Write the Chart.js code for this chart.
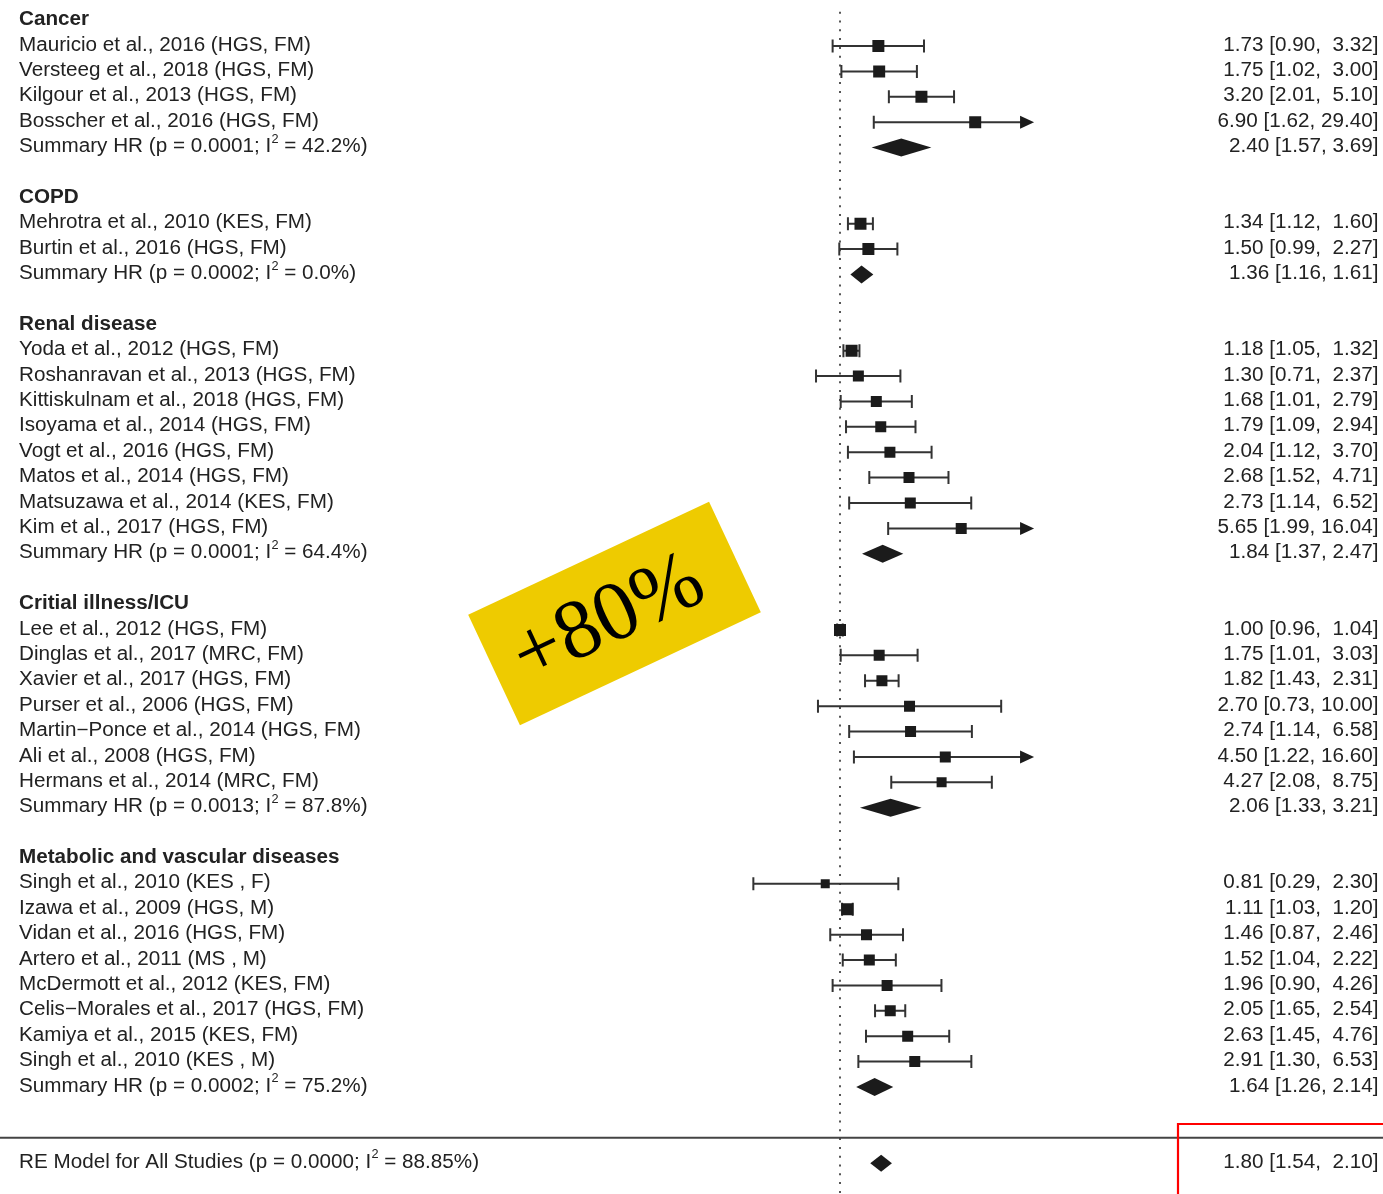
<!DOCTYPE html>
<html><head><meta charset="utf-8">
<script src="https://cdn.jsdelivr.net/npm/chart.js@4.4.1/dist/chart.umd.min.js"></script>
<style>html,body{margin:0;padding:0;background:#fff;overflow:hidden}#wrap{width:1383px;height:1194px;position:relative}</style>
</head><body><div id="wrap"><canvas id="c" width="1383" height="1194"></canvas></div>
<script>
// ---------- DATA ----------
const groupNames = ["Cancer", "COPD", "Renal disease", "Critial illness/ICU", "Metabolic and vascular diseases"];
const studyGroup = [0,0,0,0, 1,1, 2,2,2,2,2,2,2,2, 3,3,3,3,3,3,3, 4,4,4,4,4,4,4,4];
const studyLabels = [
  "Mauricio et al., 2016 (HGS, FM)", "Versteeg et al., 2018 (HGS, FM)", "Kilgour et al., 2013 (HGS, FM)", "Bosscher et al., 2016 (HGS, FM)",
  "Mehrotra et al., 2010 (KES, FM)", "Burtin et al., 2016 (HGS, FM)",
  "Yoda et al., 2012 (HGS, FM)", "Roshanravan et al., 2013 (HGS, FM)", "Kittiskulnam et al., 2018 (HGS, FM)", "Isoyama et al., 2014 (HGS, FM)",
  "Vogt et al., 2016 (HGS, FM)", "Matos et al., 2014 (HGS, FM)", "Matsuzawa et al., 2014 (KES, FM)", "Kim et al., 2017 (HGS, FM)",
  "Lee et al., 2012 (HGS, FM)", "Dinglas et al., 2017 (MRC, FM)", "Xavier et al., 2017 (HGS, FM)", "Purser et al., 2006 (HGS, FM)",
  "Martin\u2212Ponce et al., 2014 (HGS, FM)", "Ali et al., 2008 (HGS, FM)", "Hermans et al., 2014 (MRC, FM)",
  "Singh et al., 2010 (KES , F)", "Izawa et al., 2009 (HGS, M)", "Vidan et al., 2016 (HGS, FM)", "Artero et al., 2011 (MS , M)",
  "McDermott et al., 2012 (KES, FM)", "Celis\u2212Morales et al., 2017 (HGS, FM)", "Kamiya et al., 2015 (KES, FM)", "Singh et al., 2010 (KES , M)"
];
const studyHR    = [1.73, 1.75, 3.20, 6.90, 1.34, 1.50, 1.18, 1.30, 1.68, 1.79, 2.04, 2.68, 2.73, 5.65, 1.00, 1.75, 1.82, 2.70, 2.74, 4.50, 4.27, 0.81, 1.11, 1.46, 1.52, 1.96, 2.05, 2.63, 2.91];
const studyLower = [0.90, 1.02, 2.01, 1.62, 1.12, 0.99, 1.05, 0.71, 1.01, 1.09, 1.12, 1.52, 1.14, 1.99, 0.96, 1.01, 1.43, 0.73, 1.14, 1.22, 2.08, 0.29, 1.03, 0.87, 1.04, 0.90, 1.65, 1.45, 1.30];
const studyUpper = [3.32, 3.00, 5.10, 29.40, 1.60, 2.27, 1.32, 2.37, 2.79, 2.94, 3.70, 4.71, 6.52, 16.04, 1.04, 3.03, 2.31, 10.00, 6.58, 16.60, 8.75, 2.30, 1.20, 2.46, 2.22, 4.26, 2.54, 4.76, 6.53];
const summaryP   = ["0.0001", "0.0002", "0.0001", "0.0013", "0.0002"];
const summaryI2  = ["42.2%", "0.0%", "64.4%", "87.8%", "75.2%"];
const summaryHR    = [2.40, 1.36, 1.84, 2.06, 1.64];
const summaryLower = [1.57, 1.16, 1.37, 1.33, 1.26];
const summaryUpper = [3.69, 1.61, 2.47, 3.21, 2.14];
const overallLabel = "RE Model for All Studies (p = 0.0000; I\u00b2 = 88.85%)";
const overallHR = 1.80, overallLower = 1.54, overallUpper = 2.10;
const xClip = 16;   // upper axis limit; CIs beyond it end in an arrow
const stampText = "+80%";

// ---------- STYLE ----------
const markerSide = [12,12,12,12, 12,12, 12,11,11,11,11,11,11,11, 12,11,11,11,11,11,10, 9,12,11,11,11,11,11,11];
const TXT = '#222222', INK = '#1b1b1b', LINE = '#333333';
const FONT = '"Liberation Sans", Arial, sans-serif';
const FS = 19.5, SX = 1.06;

// ---------- ROW LAYOUT ----------
const headerRows = [], studyRows = [], summaryRows = [];
let r = 0;
for (let g = 0; g < groupNames.length; g++) {
  headerRows.push(r++);
  for (let i = 0; i < studyLabels.length; i++) if (studyGroup[i] === g) studyRows[i] = r++;
  summaryRows.push(r++);
  r++; // blank
}
const sepRow = r; const overallRow = r + 1;

function fmt(v){ return v.toFixed(2); }
function ciText(est, lo, hi, pad) {
  let u = fmt(hi); if (pad) while (u.length < 5) u = ' ' + u;
  return fmt(est) + ' [' + fmt(lo) + ', ' + u + ']';
}
function drawTxt(ctx, s, x, y, align, bold) {
  ctx.save();
  ctx.font = (bold ? 'bold ' : '') + FS + 'px ' + FONT;
  ctx.fillStyle = TXT; ctx.textBaseline = 'alphabetic'; ctx.textAlign = align;
  ctx.translate(x, y); ctx.scale(SX, 1);
  if (s.indexOf('\u00b2') < 0) { ctx.fillText(s, 0, 0); }
  else {
    const [a, b] = s.split('\u00b2');
    ctx.textAlign = 'left';
    ctx.fillText(a, 0, 0);
    let w = ctx.measureText(a).width;
    ctx.font = '12px ' + FONT;
    ctx.fillText('2', w + 0.3, -9.5);
    w += ctx.measureText('2').width + 0.3;
    ctx.font = FS + 'px ' + FONT;
    ctx.fillText(b, w, 0);
  }
  ctx.restore();
}

const forestPlugin = {
  id: 'forest',
  beforeDatasetsDraw(chart) {
    const ctx = chart.ctx, xs = chart.scales.x, ys = chart.scales.y;
    ctx.save();
    // reference line at HR = 1
    ctx.strokeStyle = '#555'; ctx.lineWidth = 2; ctx.setLineDash([2, 6.8]);
    ctx.beginPath(); const x1 = Math.round(xs.getPixelForValue(1));
    ctx.moveTo(x1, ys.getPixelForValue(-0.35)); ctx.lineTo(x1, chart.height); ctx.stroke();
    ctx.setLineDash([]);
    // separator
    ctx.strokeStyle = '#444'; ctx.lineWidth = 2;
    const sy = ys.getPixelForValue(sepRow);
    ctx.beginPath(); ctx.moveTo(0, sy); ctx.lineTo(chart.width, sy); ctx.stroke();
    // CI lines
    ctx.strokeStyle = LINE; ctx.fillStyle = INK; ctx.lineWidth = 2;
    for (let i = 0; i < studyHR.length; i++) {
      const y = ys.getPixelForValue(studyRows[i]);
      const xl = xs.getPixelForValue(studyLower[i]);
      const clipped = studyUpper[i] > xClip;
      const xu = xs.getPixelForValue(clipped ? xClip : studyUpper[i]);
      ctx.beginPath();
      ctx.moveTo(xl, y); ctx.lineTo(clipped ? xu - 12 : xu, y);
      ctx.moveTo(xl, y - 6.5); ctx.lineTo(xl, y + 6.5);
      if (!clipped) { ctx.moveTo(xu, y - 6.5); ctx.lineTo(xu, y + 6.5); }
      ctx.stroke();
      if (clipped) {
        ctx.beginPath(); ctx.moveTo(xu, y); ctx.lineTo(xu - 14, y - 6.5); ctx.lineTo(xu - 14, y + 6.5); ctx.closePath(); ctx.fill();
      }
    }
    // diamonds
    const diamond = (est, lo, hi, row, h) => {
      const y = ys.getPixelForValue(row);
      ctx.beginPath();
      ctx.moveTo(xs.getPixelForValue(lo), y); ctx.lineTo(xs.getPixelForValue(est), y - h);
      ctx.lineTo(xs.getPixelForValue(hi), y); ctx.lineTo(xs.getPixelForValue(est), y + h);
      ctx.closePath(); ctx.fill();
    };
    for (let g = 0; g < summaryHR.length; g++) diamond(summaryHR[g], summaryLower[g], summaryUpper[g], summaryRows[g], 9);
    diamond(overallHR, overallLower, overallUpper, overallRow, 8.5);
    ctx.restore();
  },
  afterDraw(chart) {
    const ctx = chart.ctx, ys = chart.scales.y;
    const LX = 19, RX = 1378.5, dy = 4.6;
    for (let g = 0; g < groupNames.length; g++) {
      drawTxt(ctx, groupNames[g], LX, ys.getPixelForValue(headerRows[g]) + dy, 'left', true);
      drawTxt(ctx, 'Summary HR (p = ' + summaryP[g] + '; I\u00b2 = ' + summaryI2[g] + ')', LX, ys.getPixelForValue(summaryRows[g]) + dy, 'left', false);
      drawTxt(ctx, ciText(summaryHR[g], summaryLower[g], summaryUpper[g], false), RX, ys.getPixelForValue(summaryRows[g]) + dy, 'right', false);
    }
    for (let i = 0; i < studyLabels.length; i++) {
      const y = ys.getPixelForValue(studyRows[i]) + dy;
      drawTxt(ctx, studyLabels[i], LX, y, 'left', false);
      drawTxt(ctx, ciText(studyHR[i], studyLower[i], studyUpper[i], true), RX, y, 'right', false);
    }
    drawTxt(ctx, overallLabel, LX, ys.getPixelForValue(overallRow) + dy, 'left', false);
    drawTxt(ctx, ciText(overallHR, overallLower, overallUpper, true), RX, ys.getPixelForValue(overallRow) + dy, 'right', false);

    // red highlight box
    ctx.save();
    ctx.strokeStyle = '#ff0000'; ctx.lineWidth = 2.2;
    ctx.beginPath(); ctx.moveTo(1178, chart.height + 5); ctx.lineTo(1178, 1124); ctx.lineTo(chart.width + 5, 1124); ctx.stroke();
    // yellow stamp
    ctx.translate(614.5, 613.5); ctx.rotate(-25.1 * Math.PI / 180);
    ctx.fillStyle = '#eecb00';
    ctx.fillRect(-133, -61, 266, 122);
    ctx.fillStyle = '#000'; ctx.font = '84px "Liberation Serif", "Times New Roman", serif';
    ctx.textAlign = 'center'; ctx.textBaseline = 'middle';
    ctx.fillText(stampText, -8, 4);
    ctx.restore();
  }
};

const pxPerLn = 70, xOne = 840, xMin = 0.25, xMax = 20;
const padL = xOne - pxPerLn * Math.log(1 / xMin);
const padR = 1383 - (xOne + pxPerLn * Math.log(xMax));
const rowTop = 20.6, rowStep = 25.39;

new Chart(document.getElementById('c'), {
  type: 'scatter',
  data: {
    datasets: [{
      data: studyHR.map((v, i) => ({ x: v, y: studyRows[i] })),
      pointStyle: 'rect',
      pointRadius: markerSide.map(s => s / 2 / Math.SQRT1_2),
      pointHoverRadius: markerSide.map(s => s / 2 / Math.SQRT1_2),
      backgroundColor: INK, borderWidth: 0, borderColor: INK
    }]
  },
  options: {
    responsive: false, animation: false, devicePixelRatio: 1,
    layout: { autoPadding: false, padding: { left: padL, right: padR, top: 0, bottom: 0 } },
    plugins: { legend: { display: false }, tooltip: { enabled: false } },
    scales: {
      x: { type: 'logarithmic', min: xMin, max: xMax, bounds: 'data', display: false },
      y: { type: 'linear', reverse: true, min: -rowTop / rowStep, max: (1194 - rowTop) / rowStep, bounds: 'data', display: false }
    }
  },
  plugins: [forestPlugin]
});
</script></body></html>
